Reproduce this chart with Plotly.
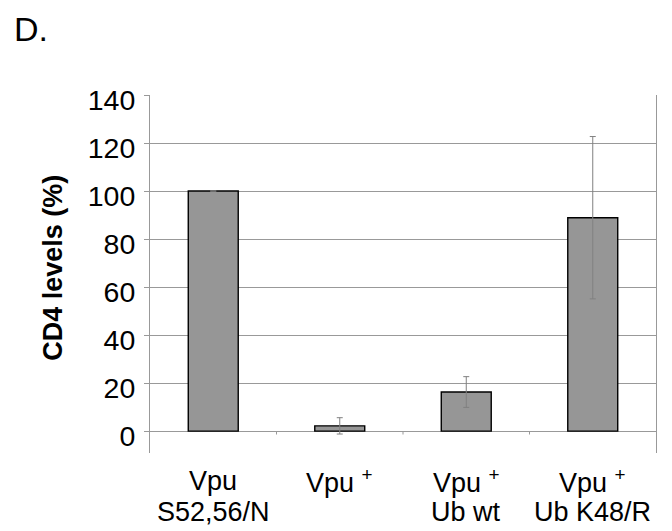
import plotly.graph_objects as go

# ---- data ----
line1 = ["Vpu", "Vpu <sup>+</sup>", "Vpu <sup>+</sup>", "Vpu <sup>+</sup>"]
line2 = ["S52,56/N", "", "Ub wt", "Ub K48/R"]
values = [100, 2.2, 16.3, 88.9]
errors = [0, 3.4, 6.4, 33.8]
y_ticks = [0, 20, 40, 60, 80, 100, 120, 140]

FONT = "Liberation Sans, Arial, sans-serif"
O = 8  # default page body margin
W, H = 672 - O, 531 - O
L, R, T, B = 150 - O, 16, 94.5 - O, 78
plot_h = H - T - B
plot_w = W - L - R

def py(p):  # page pixel y -> paper y
    return (H - B - (p - O)) / plot_h

def px(p):  # page pixel x -> paper x
    return ((p - O) - L) / plot_w

n = len(values)
xs = list(range(n))

fig = go.Figure()
fig.add_trace(go.Bar(
    x=xs, y=values, width=0.395,
    marker=dict(color="#969696", line=dict(color="#000000", width=1.4)),
    error_y=dict(type="data", array=errors, visible=True,
                 color="#808080", thickness=1, width=3),
    showlegend=False,
))

ymin = -9.1
shapes = []
# category boundary ticks below the zero line
for k in range(1, n):
    xb = k - 0.5
    shapes.append(dict(type="line", xref="x", yref="y", x0=xb, x1=xb,
                       y0=0, y1=-1.4, line=dict(color="#999999", width=1)))

annotations = []
for i in range(n):
    annotations.append(dict(x=i, xref="x", y=py(481), yref="paper",
                            text=line1[i], showarrow=False, xanchor="center",
                            yanchor="middle",
                            font=dict(family=FONT, size=27, color="black")))
    if line2[i]:
        annotations.append(dict(x=i, xref="x", y=py(512), yref="paper",
                                text=line2[i], showarrow=False, xanchor="center",
                                yanchor="middle",
                                font=dict(family=FONT, size=27, color="black")))
# y-axis title
annotations.append(dict(x=px(53), xref="paper", y=py(267.5), yref="paper",
                        text="<b>CD4 levels (%)</b>", textangle=-90, showarrow=False,
                        xanchor="center", yanchor="middle",
                        font=dict(family=FONT, size=27, color="black")))
# panel letter
annotations.append(dict(x=px(12), xref="paper", y=py(28), yref="paper",
                        text="D.", showarrow=False, xanchor="left", yanchor="middle",
                        font=dict(family=FONT, size=34, color="black")))

fig.update_layout(
    width=W, height=H,
    margin=dict(l=L, r=R, t=T, b=B, pad=0),
    paper_bgcolor="white", plot_bgcolor="white",
    xaxis=dict(range=[-0.5, n - 0.5], showticklabels=False, showgrid=False,
               zeroline=False, showline=False, ticks=""),
    yaxis=dict(range=[ymin, 140], tickvals=y_ticks, ticktext=[str(v) for v in y_ticks],
               showgrid=True, gridcolor="#999999", gridwidth=1,
               zeroline=True, zerolinecolor="#999999", zerolinewidth=1,
               showline=True, linecolor="#999999", linewidth=1, mirror=True,
               ticks="outside", ticklen=5, tickcolor="#999999",
               ticklabelstandoff=3, ticklabelshift=5,
               tickfont=dict(family=FONT, size=28.5, color="black")),
    shapes=shapes,
    annotations=annotations,
)

fig.write_html("out.html")
